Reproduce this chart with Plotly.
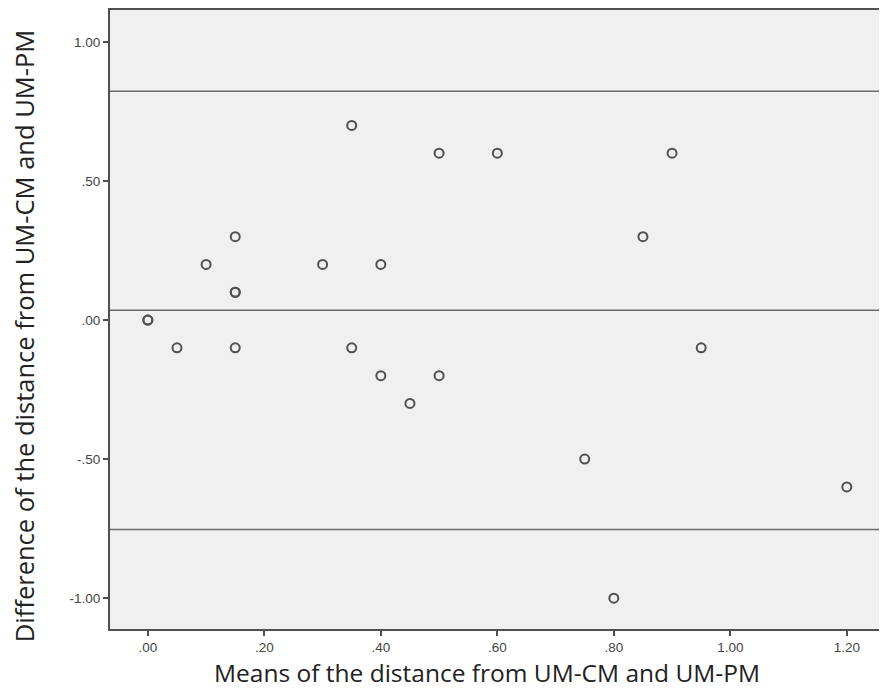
import plotly.graph_objects as go

# data
mean_vals = [0.00, 0.00, 0.05, 0.10, 0.15, 0.15, 0.15, 0.15, 0.30, 0.35, 0.35, 0.40,
             0.40, 0.45, 0.50, 0.50, 0.60, 0.75, 0.80, 0.85, 0.90, 0.95, 1.20]
diff_vals = [0.00, 0.00, -0.10, 0.20, 0.30, 0.10, 0.10, -0.10, 0.20, 0.70, -0.10, 0.20,
             -0.20, -0.30, 0.60, -0.20, 0.60, -0.50, -1.00, 0.30, 0.60, -0.10, -0.60]
ref_lines = [0.823, 0.035, -0.753]   # upper LoA, mean difference, lower LoA

x_tickvals = [0.0, 0.2, 0.4, 0.6, 0.8, 1.0, 1.2]
x_ticktext = [".00", ".20", ".40", ".60", ".80", "1.00", "1.20"]
y_tickvals = [-1.0, -0.5, 0.0, 0.5, 1.0]
y_ticktext = ["-1.00", "-.50", ".00", ".50", "1.00"]

x_title = "Means of the distance from UM-CM and UM-PM"
y_title = "Difference of the distance from UM-CM and UM-PM"

x_range = [-0.065, 1.257]
y_range = [-1.111, 1.115]

fig = go.Figure()
fig.add_trace(go.Scatter(
    x=mean_vals, y=diff_vals, mode="markers",
    marker=dict(symbol="circle-open", size=9, color="#505050", line=dict(width=2, color="#505050")),
    showlegend=False, hoverinfo="x+y"))

for v in ref_lines:
    fig.add_shape(type="line", xref="paper", x0=0, x1=1, yref="y", y0=v, y1=v,
                  line=dict(color="#6a6a6a", width=1.6), layer="below")

axis_common = dict(showgrid=False, zeroline=False, showline=True, linecolor="#505050",
                   linewidth=2, mirror=True, ticks="outside", ticklen=5, tickwidth=1.5,
                   tickcolor="#505050",
                   tickfont=dict(family="Liberation Sans, Arial", size=13.5, color="#444444"))

fig.update_xaxes(range=x_range, tickvals=x_tickvals, ticktext=x_ticktext, **axis_common)
fig.update_yaxes(range=y_range, tickvals=y_tickvals, ticktext=y_ticktext, **axis_common)

# plot area spans 770 x 619 px; titles placed by pixel offsets relative to it
fig.add_annotation(text=x_title, xref="paper", yref="paper", x=0.4896, y=-0.071,
                   xanchor="center", yanchor="middle", showarrow=False,
                   font=dict(family="Open Sans, Noto Sans", size=24.5, color="#222222"))
fig.add_annotation(text=y_title, xref="paper", yref="paper", x=-0.1117, y=0.473,
                   xanchor="center", yanchor="middle", showarrow=False, textangle=-90,
                   font=dict(family="Open Sans, Noto Sans", size=25.5, color="#222222"))

fig.update_layout(width=879, height=681, margin=dict(l=102, r=7, t=2, b=60, autoexpand=False),
                  plot_bgcolor="#f0f0f0", paper_bgcolor="white")

fig.write_html("out.html")
